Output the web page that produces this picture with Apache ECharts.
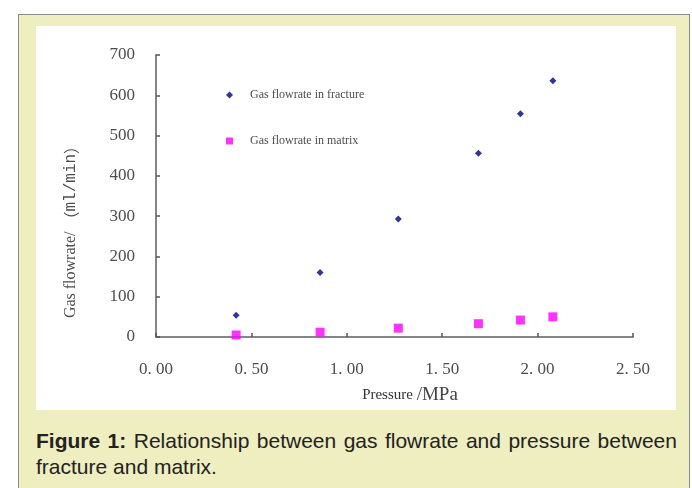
<!DOCTYPE html>
<html>
<head>
<meta charset="utf-8">
<script src="https://cdn.jsdelivr.net/npm/echarts@6/dist/echarts.min.js"></script>
<style>
  html, body { margin: 0; padding: 0; background: #ffffff; width: 692px; height: 488px; overflow: hidden; }
  #frame {
    position: absolute; left: 18px; top: 14px; width: 672px; height: 480px;
    background: #eeeec0; border: 1px solid #8c8c8c; box-sizing: border-box;
  }
  #chart { position: absolute; left: 36px; top: 26px; width: 640px; height: 384px; background: #ffffff; }
  #caption {
    position: absolute; left: 36px; top: 428px; width: 641px; text-align: justify;
    font-family: "Liberation Sans", Arial, sans-serif; font-size: 21px; line-height: 26px; color: #222222;
  }
  #caption b { font-weight: bold; }
</style>
</head>
<body>
<div id="frame"></div>
<div id="chart"></div>
<div id="caption"><b>Figure 1:</b> Relationship between gas flowrate and pressure between fracture and matrix.</div>
<script>
// Pressure (MPa) at each measurement
var pressure = [0.42, 0.86, 1.27, 1.69, 1.91, 2.08];
// Gas flowrate (ml/min) through the fracture
var fractureFlow = [54, 160, 293, 456, 554, 636];
// Gas flowrate (ml/min) through the matrix
var matrixFlow = [5, 12, 22, 33, 42, 50];

var seriesNames = ['Gas flowrate in fracture', 'Gas flowrate in matrix'];
var xTickLabels = ['0. 00', '0. 50', '1. 00', '1. 50', '2. 00', '2. 50'];
var yTickLabels = ['0', '100', '200', '300', '400', '500', '600', '700'];

function pairs(xs, ys) {
  return xs.map(function (x, i) { return [x, ys[i]]; });
}

var serif = '"Liberation Serif", "Times New Roman", serif';
var mono = '"Liberation Mono", "DejaVu Sans Mono", monospace';
var cjk = '"Noto Sans CJK SC", sans-serif';
var textGray = '#4d4d4d';
var axisGray = '#858585';

var chart = echarts.init(document.getElementById('chart'), null, { renderer: 'canvas' });
chart.setOption({
  animation: false,
  backgroundColor: '#ffffff',
  grid: { left: 120, right: 43, top: 29, bottom: 73, containLabel: false },
  legend: {
    orient: 'vertical',
    left: 185,
    top: 57,
    itemWidth: 7,
    itemHeight: 7,
    itemGap: 32,
    selectedMode: false,
    textStyle: { fontFamily: serif, fontSize: 12, color: textGray, lineHeight: 14, padding: [0, 0, 0, 12] },
    data: [
      { name: seriesNames[0], icon: 'diamond' },
      { name: seriesNames[1], icon: 'rect' }
    ]
  },
  xAxis: {
    type: 'value',
    min: 0, max: 2.5, interval: 0.5,
    axisLine: { show: true, lineStyle: { color: axisGray, width: 2 } },
    axisTick: { show: true, inside: true, length: 4, lineStyle: { color: '#555555', width: 1.5 } },
    splitLine: { show: false },
    axisLabel: {
      margin: 24,
      fontFamily: serif, fontSize: 17, color: textGray,
      formatter: function (v) { return xTickLabels[Math.round(v / 0.5)]; }
    }
  },
  yAxis: {
    type: 'value',
    min: 0, max: 700, interval: 100,
    axisLine: { show: true, lineStyle: { color: axisGray, width: 2 } },
    axisTick: { show: true, inside: true, length: 4, lineStyle: { color: '#555555', width: 1.5 } },
    splitLine: { show: false },
    axisLabel: {
      margin: 21,
      fontFamily: serif, fontSize: 17, color: textGray,
      formatter: function (v) { return yTickLabels[Math.round(v / 100)]; }
    }
  },
  graphic: [
    {
      type: 'text',
      x: 35, y: 202,
      rotation: Math.PI / 2,
      style: {
        text: '{a|Gas flowrate/ }{p|（}{b|ml/min}{p|）}',
        fill: textGray,
        align: 'center', verticalAlign: 'middle',
        rich: {
          a: { fontFamily: serif, fontSize: 16, fill: textGray },
          p: { fontFamily: cjk, fontSize: 16, fill: textGray },
          b: { fontFamily: mono, fontSize: 16, fill: textGray }
        }
      }
    },
    {
      type: 'text',
      x: 374, y: 369,
      style: {
        text: '{a|Pressure }{b|/MPa}',
        fill: '#333333',
        align: 'center', verticalAlign: 'middle',
        rich: {
          a: { fontFamily: serif, fontSize: 15, fill: '#333333' },
          b: { fontFamily: serif, fontSize: 19, fill: '#444444' }
        }
      }
    }
  ],
  series: [
    {
      name: seriesNames[0],
      type: 'scatter',
      symbol: 'diamond',
      symbolSize: 7,
      itemStyle: { color: '#000080' },
      data: pairs(pressure, fractureFlow)
    },
    {
      name: seriesNames[1],
      type: 'scatter',
      symbol: 'rect',
      symbolSize: 9,
      itemStyle: { color: '#ff00ff' },
      data: pairs(pressure, matrixFlow)
    }
  ]
});
</script>
</body>
</html>
